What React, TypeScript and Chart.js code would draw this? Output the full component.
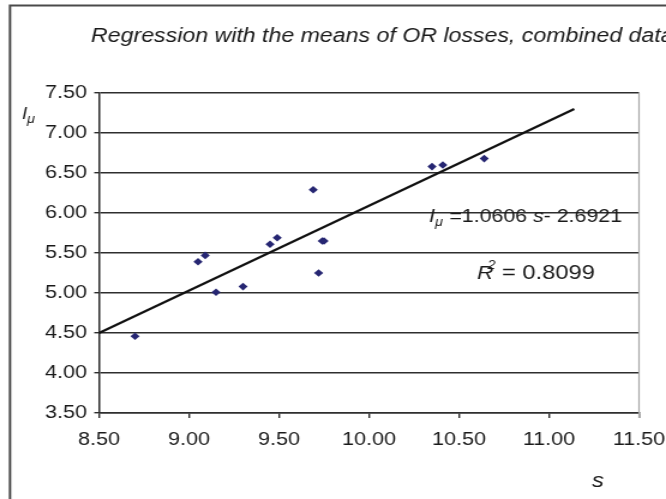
import React, { useEffect, useRef } from "react";
import { Chart, registerables } from "chart.js";

Chart.register(...registerables);

// horizontal stretch of the reference picture
const S = 1.2;
const W = 666;
const H = 499;
const IW = W / S;

const sValues = [8.70, 9.05, 9.09, 9.15, 9.30, 9.45, 9.49, 9.69, 9.72, 9.74, 9.75, 10.35, 10.41, 10.64];
const iValues = [4.46, 5.39, 5.47, 5.01, 5.08, 5.61, 5.69, 6.29, 5.25, 5.65, 5.65, 6.58, 6.60, 6.68];
const trendS = [8.50, 11.14];
const trendI = [4.50, 7.30];
const xMin = 8.5;
const xMax = 11.5;
const yMin = 3.5;
const yMax = 7.5;
const tickStep = 0.5;
const titleText = "Regression with the means of OR losses, combined data";
const slopeText = "=1.0606";
const interceptText = "- 2.6921";
const r2Text = "= 0.8099";

const FONT = '"Liberation Sans", Arial, sans-serif';

const overlay = {
  id: "overlay",
  afterDraw(chart: any) {
    const ctx: CanvasRenderingContext2D = chart.ctx;
    const a = chart.chartArea;
    ctx.save();
    // gray right border of the plot
    ctx.strokeStyle = "#a8a8a8";
    ctx.lineWidth = 1.2;
    ctx.beginPath();
    ctx.moveTo(a.right, a.top);
    ctx.lineTo(a.right, a.bottom + 5);
    ctx.stroke();
    // outer frame
    ctx.strokeStyle = "#4a4a4a";
    ctx.lineWidth = 2;
    ctx.beginPath();
    ctx.moveTo(10 / S, H + 10);
    ctx.lineTo(10 / S, 5.5);
    ctx.lineTo(IW + 10, 5.5);
    ctx.stroke();

    ctx.fillStyle = "#1a1a1a";
    ctx.textBaseline = "alphabetic";
    ctx.textAlign = "left";
    // title
    ctx.font = `italic 19.3px ${FONT}`;
    ctx.fillText(titleText, 91 / S, 42);

    // y axis title I_mu
    ctx.font = `italic 16px ${FONT}`;
    ctx.fillText("I", 22 / S, 119);
    ctx.font = `italic 12px ${FONT}`;
    ctx.fillText("μ", 27 / S, 123);

    // x axis title s
    ctx.font = `italic 20px ${FONT}`;
    ctx.fillText("s", 592 / S, 487);

    // equation
    const yb = 222;
    ctx.font = `italic 18px ${FONT}`;
    ctx.fillText("I", 429 / S, yb);
    ctx.font = `italic 12px ${FONT}`;
    ctx.fillText("μ", 435 / S, yb + 4);
    ctx.font = `17.8px ${FONT}`;
    const iw = ctx.measureText(interceptText).width;
    const right = 622 / S;
    ctx.textAlign = "right";
    ctx.fillText(interceptText, right, yb);
    ctx.font = `italic 17.8px ${FONT}`;
    const sw = ctx.measureText("s").width;
    ctx.fillText("s", right - iw, yb);
    ctx.font = `17.8px ${FONT}`;
    ctx.fillText(slopeText + " ", right - iw - sw, yb);
    ctx.textAlign = "left";

    // R squared
    const xr = 477 / S;
    const yr = 279;
    ctx.font = `italic 19px ${FONT}`;
    ctx.fillText("R", xr, yr);
    const rw = ctx.measureText("R").width;
    ctx.font = `italic 12px ${FONT}`;
    ctx.fillText("2", xr + rw - 5, yr - 10);
    ctx.font = `19.8px ${FONT}`;
    ctx.textAlign = "right";
    ctx.fillText(r2Text, 595 / S, yr);
    ctx.restore();
  },
};

export default function App() {
  const ref = useRef<HTMLCanvasElement | null>(null);
  useEffect(() => {
    if (!ref.current) return;
    const chart = new Chart(ref.current, {
      type: "scatter",
      data: {
        datasets: [
          {
            type: "line",
            label: "trend",
            data: trendS.map((s, i) => ({ x: s, y: trendI[i] })),
            borderColor: "#111111",
            borderWidth: 2.2,
            pointRadius: 0,
            showLine: true,
            fill: false,
          },
          {
            type: "scatter",
            label: "means",
            data: sValues.map((s, i) => ({ x: s, y: iValues[i] })),
            pointStyle: "rectRot",
            pointRadius: 3.8,
            backgroundColor: "#262672",
            borderColor: "#262672",
            borderWidth: 0,
          },
        ],
      },
      options: {
        responsive: false,
        animation: false,
        devicePixelRatio: 1,
        layout: { padding: { top: 93, right: IW - 639 / S, left: 0, bottom: 0 } },
        plugins: {
          legend: { display: false },
          title: { display: false },
          tooltip: { enabled: false },
        },
        scales: {
          x: {
            type: "linear",
            min: xMin,
            max: xMax,
            afterFit(scale: any) {
              scale.height = H - 413;
              scale.paddingLeft = 0;
              scale.paddingRight = 0;
            },
            ticks: {
              stepSize: tickStep,
              callback: (v: any) => Number(v).toFixed(2),
              color: "#1a1a1a",
              font: { family: FONT, size: 18 },
              padding: 11,
              maxRotation: 0,
              autoSkip: false,
            },
            grid: {
              drawOnChartArea: false,
              drawTicks: true,
              tickLength: 5,
              color: "#2e2e2e",
              lineWidth: 1.4,
            },
            border: { display: true, color: "#2e2e2e", width: 1.5 },
          },
          y: {
            type: "linear",
            min: yMin,
            max: yMax,
            afterFit(scale: any) {
              scale.width = 99 / S;
              scale.paddingTop = 0;
              scale.paddingBottom = 0;
            },
            ticks: {
              stepSize: tickStep,
              callback: (v: any) => Number(v).toFixed(2),
              color: "#1a1a1a",
              font: { family: FONT, size: 18 },
              padding: 6,
            },
            grid: {
              drawOnChartArea: true,
              drawTicks: true,
              tickLength: 4,
              color: "#2e2e2e",
              lineWidth: 1.4,
            },
            border: { display: true, color: "#2e2e2e", width: 1.5 },
          },
        },
      },
      plugins: [overlay],
    });
    return () => chart.destroy();
  }, []);

  return (
    <div
      style={{
        position: "fixed",
        left: 0,
        top: 0,
        width: W,
        height: H,
        overflow: "hidden",
        background: "#ffffff",
      }}
    >
      <div style={{ transform: `scaleX(${S})`, transformOrigin: "0 0", width: IW, height: H }}>
        <canvas ref={ref} width={IW} height={H} style={{ display: "block", width: IW, height: H }} />
      </div>
    </div>
  );
}
